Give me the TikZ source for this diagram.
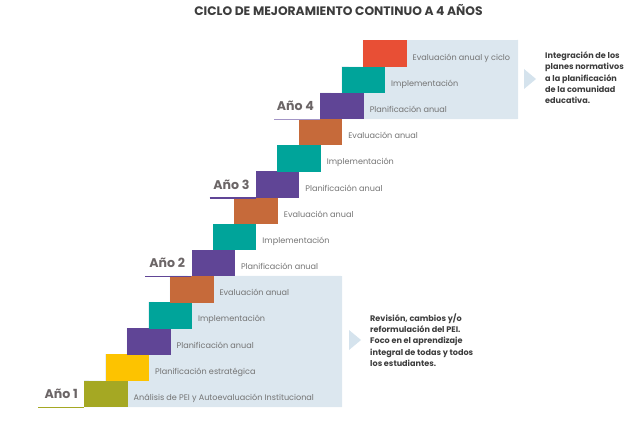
\documentclass[tikz,border=0pt]{standalone}
\usepackage{fontspec}
\setmainfont{Poppins}
\definecolor{cOlive}{HTML}{A5A823}
\definecolor{cYellow}{HTML}{FDC300}
\definecolor{cPurple}{HTML}{604596}
\definecolor{cTeal}{HTML}{00A49A}
\definecolor{cOrange}{HTML}{C66A3A}
\definecolor{cRed}{HTML}{E84F35}
\definecolor{bgBlue}{HTML}{DCE7EF}
\definecolor{triBlue}{HTML}{D5E3ED}
\definecolor{lblGray}{HTML}{737373}
\definecolor{yearGray}{HTML}{6B6566}
\definecolor{darkText}{HTML}{3D3D3D}
\definecolor{lPurple}{HTML}{A395C6}
\tikzset{
  block/.style={anchor=north west, inner sep=0pt, minimum width=43.5pt, minimum height=26.6pt},
  lbl/.style={anchor=base west, inner sep=0pt, text=lblGray, font=\fontsize{8.1}{10}\selectfont},
  yearlbl/.style={anchor=base east, inner sep=0pt, text=yearGray, font=\fontsize{12.6}{14}\selectfont\bfseries},
  sidetxt/.style={anchor=north west, inner sep=0pt, align=left, text=darkText, font=\fontsize{8.1}{11.3}\selectfont\bfseries},
  uline/.style={line width=1.4pt},
  chevron/.style={fill=triBlue}
}
\begin{document}
\begin{tikzpicture}[x=1pt,y=-1pt]
\useasboundingbox (0,0) rectangle (629,425);
% step positions
\foreach \i in {1,...,14}{
  \pgfmathsetmacro\xx{84+21.46*(\i-1)}
  \pgfmathsetmacro\yy{380.4-26.17*(\i-1)}
  \coordinate (p\i) at (\xx,\yy);
}
% background panels (behind the blocks)
\fill[bgBlue] (p5) -- (342,276) -- (342,407) -- ([yshift=-26.6pt]p1) -- (p1)
  -- ([yshift=-26.6pt]p2) -- (p2) -- ([yshift=-26.6pt]p3) -- (p3)
  -- ([yshift=-26.6pt]p4) -- (p4) -- ([yshift=-26.6pt]p5) -- cycle;
\fill[bgBlue] (p14) -- (518,40) -- (518,119) -- ([yshift=-26.6pt]p12) -- (p12)
  -- ([yshift=-26.6pt]p13) -- (p13) -- ([yshift=-26.6pt]p14) -- cycle;
% blocks and labels
\foreach \i/\c/\t in {1/cOlive/Análisis de PEI y Autoevaluación Institucional,
  2/cYellow/Planificación estratégica,
  3/cPurple/Planificación anual,
  4/cTeal/Implementación,
  5/cOrange/Evaluación anual,
  6/cPurple/Planificación anual,
  7/cTeal/Implementación,
  8/cOrange/Evaluación anual,
  9/cPurple/Planificación anual,
  10/cTeal/Implementación,
  11/cOrange/Evaluación anual,
  12/cPurple/Planificación anual,
  13/cTeal/Implementación,
  14/cRed/Evaluación anual y ciclo}{
  \node[block, fill=\c] (b\i) at (p\i) {};
  \node[lbl] (t\i) at ([xshift=49.5pt, yshift=-20pt]p\i) {\t};
}
% chevrons
\fill[chevron] (349,330) -- (361,340) -- (349,350) -- cycle;
\fill[chevron] (524,69) -- (536,79) -- (524,89) -- cycle;
% title
\node[anchor=base, inner sep=0pt, text=darkText, font=\fontsize{12.3}{14}\selectfont\bfseries] (title) at (338.5,15.5) {CICLO DE MEJORAMIENTO CONTINUO A 4 AÑOS};
% year labels and underlines
\foreach \i/\n/\c in {1/1/cOlive, 6/2/cPurple, 9/3/cPurple, 12/4/lPurple}{
  \coordinate (u\i) at ([xshift=-46pt]b\i.south west);
  \draw[uline, draw=\c] (u\i) -- (b\i.south west);
  \node[yearlbl] (y\i) at ([xshift=-6pt, yshift=9pt]b\i.south west) {Año \n};
}
% side texts
\node[sidetxt] (s1) at (370,313.5) {Revisión, cambios y/o\\reformulación del PEI.\\Foco en el aprendizaje\\integral de todas y todos\\los estudiantes.};
\node[sidetxt] (s2) at (545,51.5) {Integración de los\\planes normativos\\a la planificación\\de la comunidad\\educativa.};
\end{tikzpicture}
\end{document}
